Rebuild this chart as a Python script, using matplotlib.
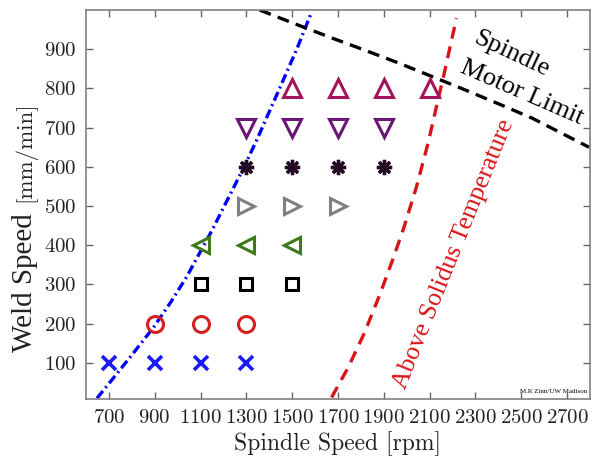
import matplotlib
matplotlib.use("Agg")
import matplotlib.pyplot as plt

plt.rcParams['font.family'] = 'serif'
plt.rcParams['font.serif'] = ['cmr10']
plt.rcParams['mathtext.fontset'] = 'cm'
plt.rcParams['axes.formatter.use_mathtext'] = True
plt.rcParams['axes.unicode_minus'] = False

# Process window data (spindle speed [rpm], weld speed [mm/min])
x_cross_rpm = [700, 900, 1100, 1300]           # speed 100
circle_rpm = [900, 1100, 1300]                 # speed 200
square_rpm = [1100, 1300, 1500]                # speed 300
left_tri_rpm = [1100, 1300, 1500]              # speed 400
right_tri_rpm = [1300, 1500, 1700]             # speed 500
aster_rpm = [1300, 1500, 1700, 1900]           # speed 600
down_tri_rpm = [1300, 1500, 1700, 1900]        # speed 700
up_tri_rpm = [1500, 1700, 1900, 2100]          # speed 800
weld_speeds = [100, 200, 300, 400, 500, 600, 700, 800]

# Boundary curves
cold_rpm = [648, 712, 800, 895, 970, 1040, 1105, 1150, 1290, 1345, 1445, 1520, 1585]
cold_speed = [10, 56, 120, 191, 255, 320, 390, 438, 600, 668, 800, 900, 995]
motor_rpm = [1358, 1502, 1676, 1824, 1968, 2112, 2260, 2404, 2548, 2796]
motor_speed = [1000, 967, 928, 896, 864, 830, 795, 760, 724, 650]
solidus_rpm = [1672, 1745, 1815, 1885, 1938, 1988, 2042, 2093, 2133, 2160, 2217]
solidus_speed = [12, 89, 176, 278, 362, 446, 548, 660, 762, 829, 979]

xticks = [700, 900, 1100, 1300, 1500, 1700, 1900, 2100, 2300, 2500, 2700]
yticks = [100, 200, 300, 400, 500, 600, 700, 800, 900]

fig = plt.figure(figsize=(5.95, 4.58), dpi=100)
ax = fig.add_axes([86/595, 1 - 399/458, (590-86)/595, (399-10)/458])

ax.plot(cold_rpm, cold_speed, color='#0000ff', lw=2.4, ls=(0, (2.8, 1.2, 0.6, 1.2)))
ax.plot(motor_rpm, motor_speed, color='black', lw=2.4, ls=(0, (3.6, 2.2)))
ax.plot(solidus_rpm, solidus_speed, color='#d81418', lw=2.4, ls=(0, (3.6, 2.4)))

groups = [
    (x_cross_rpm, weld_speeds[0], 'x', '#1a1aff', 9.5, 2.6),
    (circle_rpm, weld_speeds[1], 'o', '#d42020', 11.5, 2.2),
    (square_rpm, weld_speeds[2], 's', 'black', 8.5, 2.2),
    (left_tri_rpm, weld_speeds[3], '<', '#3d7a1a', 12, 2.2),
    (right_tri_rpm, weld_speeds[4], '>', '#808080', 12, 2.2),
    (aster_rpm, weld_speeds[5], (8, 2, 0), '#230a25', 11, 2.4),
    (down_tri_rpm, weld_speeds[6], 'v', '#6a1478', 12.5, 2.2),
    (up_tri_rpm, weld_speeds[7], '^', '#a3145c', 12.5, 2.2),
]
for rpms, spd, mk, col, ms, mew in groups:
    ax.plot(rpms, [spd] * len(rpms), ls='none', marker=mk, ms=ms,
            mfc='none', mec=col, mew=mew)

ax.set_xlim(600, 2800)
ax.set_ylim(8, 1000)
ax.set_xticks(xticks)
ax.set_yticks(yticks)
ax.tick_params(direction='in', top=True, right=True, length=5, width=1,
               color='#666666', labelsize=15, pad=7, labelcolor='#222222')
for sp in ax.spines.values():
    sp.set_color('#808080')
    sp.set_linewidth(1.2)

ax.set_xlabel('Spindle Speed [rpm]', fontsize=17, labelpad=3, color='#222222')

# y label: two parts in different faces
fig.text(25/595, 1 - 283/458, 'Weld Speed', rotation=90, fontsize=21,
         family='Liberation Serif', ha='center', va='center', color='#222222')
fig.text(25/595, 1 - 152/458, '[mm/min]', rotation=90, fontsize=16.5,
         family='cmr10', ha='center', va='center', color='#222222')

ax.text(2456, 887, 'Spindle', rotation=-25, fontsize=19, family='Liberation Serif',
        ha='center', va='center', rotation_mode='anchor')
ax.text(2500, 790, 'Motor Limit', rotation=-23.5, fontsize=19, family='Liberation Serif',
        ha='center', va='center', rotation_mode='anchor')
ax.text(2205, 378, 'Above Solidus Temperature', rotation=68, fontsize=18.5,
        family='Liberation Serif', color='#d81418', ha='center', va='center',
        rotation_mode='anchor')
ax.text(2790, 22, 'M.R Zinn/UW Madison', fontsize=5, ha='right', va='bottom',
        family='Liberation Serif')

fig.savefig('out.png', dpi=100)
